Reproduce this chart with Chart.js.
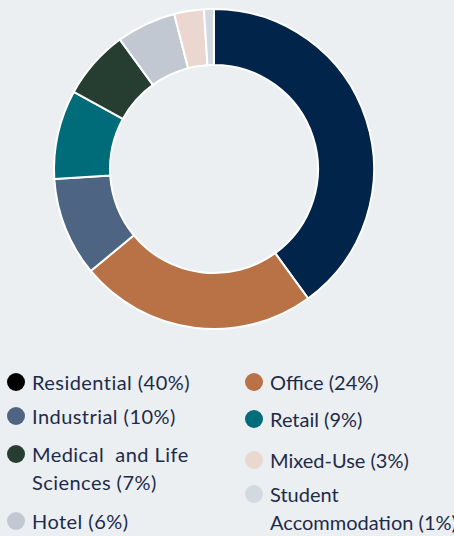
<!DOCTYPE html>
<html>
<head>
<meta charset="utf-8">
<script src="https://cdn.jsdelivr.net/npm/chart.js@4.4.1/dist/chart.umd.min.js"></script>
<style>
  html, body { margin: 0; padding: 0; background: #eceff2; }
  body { width: 454px; height: 536px; overflow: hidden; position: relative; font-family: Lato, "Open Sans", sans-serif; }
  #wrap { position: absolute; left: 0; top: 0; width: 454px; height: 340px; }
  .legend { position: absolute; top: 368px; display: flex; flex-direction: column; }
  .legend .item { display: flex; align-items: flex-start; color: #1d2b4a; font-size: 20px; letter-spacing: 0.45px; line-height: 28px; }
  .legend .dot { flex: none; width: 18px; height: 18px; border-radius: 50%; margin-top: 5px; margin-right: 7px; }
  #col1 { left: 7px; width: 202px; }
  #col2 { left: 245px; width: 235px; }
  #col2 .item { letter-spacing: 0px; }
</style>
</head>
<body>
<div id="wrap"><canvas id="c"></canvas></div>
<div class="legend" id="col1"></div>
<div class="legend" id="col2"></div>
<script>
// sectores en el orden del anillo (sentido horario desde arriba)
const sectors = ['Residential', 'Office', 'Industrial', 'Retail', 'Medical  and Life Sciences', 'Hotel', 'Mixed-Use', 'Student Accommodation'];
const shares = [40, 24, 10, 9, 7, 6, 3, 1];
const sliceColors = ['#00244a', '#b87245', '#4d6482', '#006c7a', '#263d32', '#c1c8d2', '#ead8d0', '#d3d9e1'];
const dotColors = ['#000000', '#b87245', '#4d6482', '#006c7a', '#263d32', '#c1c8d2', '#ead8d0', '#d3d9e1'];
// columnas de la leyenda (indices en sectors)
const legendCol1 = [0, 2, 4, 5];
const legendCol2 = [1, 3, 6, 7];

new Chart(document.getElementById('c'), {
    type: 'doughnut',
    data: {
        labels: sectors,
        datasets: [{
            data: shares,
            backgroundColor: sliceColors,
            borderColor: '#ffffff',
            borderWidth: 2
        }]
    },
    options: {
        responsive: true,
        maintainAspectRatio: false,
        animation: false,
        cutout: '65%',
        layout: { padding: { left: 0, right: 26, top: 8, bottom: 10 } },
        plugins: {
            legend: { display: false },
            tooltip: { enabled: false }
        }
    }
});

const gaps1 = [0, 6, 10, 11];
const gaps2 = [0, 9, 13, 6];
function buildCol(el, idx, gaps) {
    idx.forEach((i, k) => {
        const item = document.createElement('div');
        item.className = 'item';
        item.style.marginTop = gaps[k] + 'px';
        const dot = document.createElement('span');
        dot.className = 'dot';
        dot.style.background = dotColors[i];
        const txt = document.createElement('span');
        txt.textContent = sectors[i] + ' (' + shares[i] + '%)';
        txt.style.whiteSpace = 'pre-wrap';
        item.appendChild(dot);
        item.appendChild(txt);
        el.appendChild(item);
    });
}
buildCol(document.getElementById('col1'), legendCol1, gaps1);
buildCol(document.getElementById('col2'), legendCol2, gaps2);
</script>
</body>
</html>
